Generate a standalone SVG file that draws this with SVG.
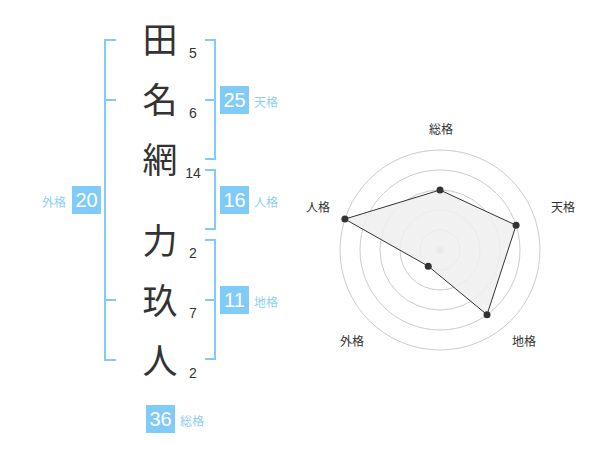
<svg xmlns="http://www.w3.org/2000/svg" width="600" height="470" viewBox="0 0 600 470">
<style>
.ch{font-family:"Noto Sans CJK JP","Noto Sans CJK SC",sans-serif;font-size:35px;fill:#333;text-anchor:middle}
.num{font-family:"Liberation Sans",Arial,sans-serif;font-size:14px;fill:#333;text-anchor:middle}
.br{fill:none;stroke:#80cbf8;stroke-width:2}
.box{fill:#80cbf8}
.bv{font-family:"Liberation Sans",Arial,sans-serif;font-size:20px;fill:#fff;text-anchor:middle}
.bl{font-family:"Noto Sans CJK JP","Noto Sans CJK SC",sans-serif;font-size:12px;fill:#8dcff5}
.ring{fill:none;stroke:#cccccc;stroke-width:1}
.ax{font-family:"Noto Sans CJK JP","Noto Sans CJK SC",sans-serif;font-size:12px;fill:#333;text-anchor:middle}
.pt{fill:#333}
</style>
<rect width="600" height="470" fill="#fff"/>
<g id="chars">
<text class="ch" x="160" y="53">田</text>
<text class="ch" x="160" y="113">名</text>
<text class="ch" x="160" y="173">網</text>
<text class="ch" x="160" y="254">力</text>
<text class="ch" x="160" y="314">玖</text>
<text class="ch" x="160" y="374">人</text>
</g>
<g id="strokes">
<text class="num" x="193" y="58">5</text>
<text class="num" x="193" y="118">6</text>
<text class="num" x="193" y="178">14</text>
<text class="num" x="193" y="258">2</text>
<text class="num" x="193" y="318">7</text>
<text class="num" x="193" y="378">2</text>
</g>
<g id="connectors">
<path class="br" d="M116,40 H105 V360 H116 M105,100 H116 M105,300 H116"/>
<path class="br" d="M205,40 H215 V159 H205 M205,100 H215"/>
<path class="br" d="M205,170 H215 V229 H205"/>
<path class="br" d="M205,240 H215 V359 H205 M205,300 H215"/>
</g>
<g id="tenkaku">
<rect class="box" x="220" y="86" width="29" height="28"/>
<text class="bv" x="234.5" y="107">25</text>
<text class="bl" x="254" y="107">天格</text>
</g>
<g id="jinkaku">
<rect class="box" x="220" y="186" width="29" height="28"/>
<text class="bv" x="234.5" y="207">16</text>
<text class="bl" x="254" y="207">人格</text>
</g>
<g id="chikaku">
<rect class="box" x="220" y="286" width="29" height="28"/>
<text class="bv" x="234.5" y="307">11</text>
<text class="bl" x="254" y="307">地格</text>
</g>
<g id="gaikaku">
<rect class="box" x="72" y="186" width="29" height="28"/>
<text class="bv" x="86.5" y="207">20</text>
<text class="bl" x="42" y="207">外格</text>
</g>
<g id="soukaku">
<rect class="box" x="146" y="405" width="29" height="28"/>
<text class="bv" x="160.5" y="426">36</text>
<text class="bl" x="180" y="426">総格</text>
</g>
<g id="radar">
<circle class="ring" cx="440" cy="250" r="20"/>
<circle class="ring" cx="440" cy="250" r="40"/>
<circle class="ring" cx="440" cy="250" r="60"/>
<circle class="ring" cx="440" cy="250" r="80"/>
<circle class="ring" cx="440" cy="250" r="100"/>
<circle cx="440" cy="250" r="3.5" fill="#cccccc"/>
<polygon points="440,190 516.08,225.28 487.02,314.72 428.24,266.18 344.89,219.1" fill="#efefef" fill-opacity="0.85" stroke="#333" stroke-width="1"/>
<circle class="pt" cx="440" cy="190" r="3.5"/>
<circle class="pt" cx="516.08" cy="225.28" r="3.5"/>
<circle class="pt" cx="487.02" cy="314.72" r="3.5"/>
<circle class="pt" cx="428.24" cy="266.18" r="3.5"/>
<circle class="pt" cx="344.89" cy="219.1" r="3.5"/>
<text class="ax" x="441" y="134">総格</text>
<text class="ax" x="563" y="212">天格</text>
<text class="ax" x="524" y="346">地格</text>
<text class="ax" x="352" y="346">外格</text>
<text class="ax" x="318" y="212">人格</text>
</g>
</svg>
